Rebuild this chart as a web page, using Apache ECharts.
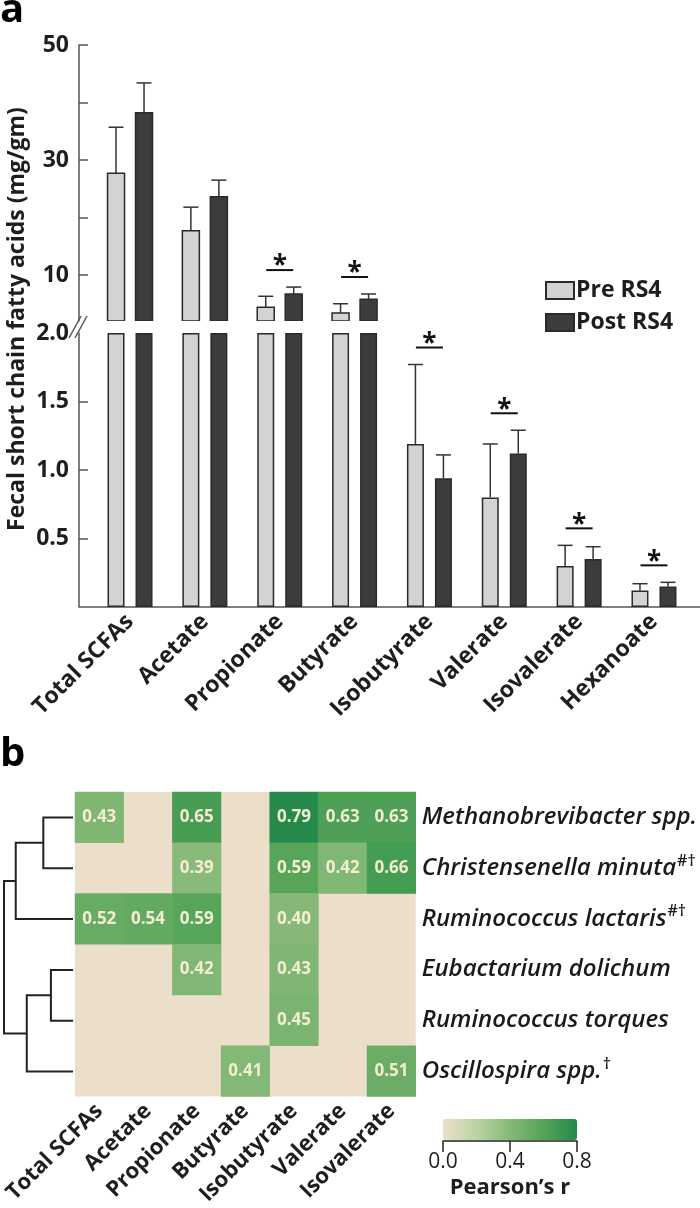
<!DOCTYPE html>
<html>
<head>
<meta charset="utf-8">
<script src="https://cdn.jsdelivr.net/npm/echarts@6/dist/echarts.min.js"></script>
<style>
html,body{margin:0;padding:0;background:#fff;}
#c{width:700px;height:1208px;}
</style>
</head>
<body>
<div id="c"></div>
<script>
// ---------- DATA ----------
const categories = ['Total SCFAs','Acetate','Propionate','Butyrate','Isobutyrate','Valerate','Isovalerate','Hexanoate'];
const preMean  = [27.7, 17.7, 4.4, 3.4, 1.19, 0.80, 0.30, 0.12];
const preUpper = [35.7, 21.8, 6.3, 5.0, 1.77, 1.19, 0.45, 0.17];
const postMean = [38.2, 23.6, 6.7, 5.8, 0.94, 1.12, 0.35, 0.15];
const postUpper= [43.4, 26.5, 7.9, 6.7, 1.11, 1.29, 0.44, 0.18];
const significant = [false, false, true, true, true, true, true, true];
const upperTicks  = [10, 20, 30, 40, 50];
const upperLabels = [10, 30, 50];
const lowerTicks  = [0.5, 1.0, 1.5];
const lowerLabels = [0.5, 1.0, 1.5, 2.0];
const UPPER_MIN = 2, UPPER_MAX = 50, LOWER_MAX = 2;

const heatCols = ['Total SCFAs','Acetate','Propionate','Butyrate','Isobutyrate','Valerate','Isovalerate'];
const heatRows = ['Methanobrevibacter spp.','Christensenella minuta','Ruminococcus lactaris','Eubactarium dolichum','Ruminococcus torques','Oscillospira spp.'];
const rowMarks = ['', '#\u2020', '#\u2020', '', '', '\u2020'];
const rMethanobrevibacter = [0.43, null, 0.65, null, 0.79, 0.63, 0.63];
const rChristensenella    = [null, null, 0.39, null, 0.59, 0.42, 0.66];
const rRumLactaris        = [0.52, 0.54, 0.59, null, 0.40, null, null];
const rEubactarium        = [null, null, 0.42, null, 0.43, null, null];
const rRumTorques         = [null, null, null, null, 0.45, null, null];
const rOscillospira       = [null, null, null, 0.41, null, null, 0.51];
const heatValues = [rMethanobrevibacter, rChristensenella, rRumLactaris, rEubactarium, rRumTorques, rOscillospira];
// dendrogram merges: [childA, childB, height]; leaves 0..5, new clusters numbered 6..
const merges = [[0,1,0.43],[3,4,0.32],[6,2,0.83],[7,5,0.67],[8,9,1.0]];
const colorbarMin = 0, colorbarMax = 0.8, colorbarStep = 0.4;

// ---------- STYLE ----------
const FONT = "'Open Sans', 'DejaVu Sans', sans-serif";
const BAR_W = 17, BAR_GAP = 11;
const PRE_FILL = '#d3d3d3', POST_FILL = '#3c3c3c', BAR_STROKE = '#2a2a2a';
const AX = '#555';
const TXT = '#1e1e1e';

// ---------- BUILD ----------
const heatData = [];
heatValues.forEach((row, ri) => row.forEach((v, ci) => { if (v !== null) heatData.push([ci, ri, v]); }));

const nodeY = {}, nodeH = {};
for (let i = 0; i < heatRows.length; i++) { nodeY[i] = i; nodeH[i] = 0; }
const dendroData = merges.map((m, k) => {
  const id = heatRows.length + k;
  nodeY[id] = (nodeY[m[0]] + nodeY[m[1]]) / 2;
  nodeH[id] = m[2];
  return [nodeH[m[0]], nodeY[m[0]], nodeH[m[1]], nodeY[m[1]], m[2]];
});

const barRows = categories.map((c, i) => [i, preMean[i], preUpper[i], postMean[i], postUpper[i]]);
const offsetOf = (k) => (k === 0 ? -1 : 1) * (BAR_W + BAR_GAP) / 2;

function upperBars(params, api) {
  const i = api.value(0);
  const children = [];
  [[1, PRE_FILL], [3, POST_FILL]].forEach(([dim, fill], k) => {
    const v = api.value(dim);
    if (v <= UPPER_MIN) return;
    const p0 = api.coord([i, UPPER_MIN]);
    const p1 = api.coord([i, v]);
    children.push({ type: 'rect', shape: { x: p0[0] + offsetOf(k) - BAR_W / 2, y: p1[1], width: BAR_W, height: p0[1] - p1[1] },
      style: { fill: fill, stroke: BAR_STROKE, lineWidth: 1.5 } });
  });
  return { type: 'group', children: children };
}

function errorBars(gridMin, gridMax) {
  return function (params, api) {
    const i = api.value(0);
    const children = [];
    [[1, 2], [3, 4]].forEach(([mDim, eDim], k) => {
      const m = api.value(mDim), e = api.value(eDim);
      if (e <= gridMin || e > gridMax) return;
      const p0 = api.coord([i, Math.max(m, gridMin)]);
      const p1 = api.coord([i, e]);
      const cx = p0[0] + offsetOf(k);
      children.push({ type: 'line', shape: { x1: cx, y1: p0[1], x2: cx, y2: p1[1] }, style: { stroke: '#333', lineWidth: 1.5 } });
      children.push({ type: 'line', shape: { x1: cx - 7.5, y1: p1[1], x2: cx + 7.5, y2: p1[1] }, style: { stroke: '#333', lineWidth: 1.5 } });
    });
    const top = Math.max(api.value(2), api.value(4));
    if (significant[i] && top > gridMin && top <= gridMax) {
      const p = api.coord([i, top]);
      const y = p[1] - 17;
      children.push({ type: 'line', shape: { x1: p[0] - 13.5, y1: y, x2: p[0] + 13.5, y2: y }, style: { stroke: '#111', lineWidth: 2 } });
      children.push({ type: 'text', style: { text: '*', x: p[0], y: y - 3, align: 'center', verticalAlign: 'middle', font: "bold 26px " + FONT, fill: '#111' } });
    }
    return { type: 'group', children: children };
  };
}

function dendroItem(params, api) {
  const a = api.coord([api.value(0), api.value(1)]);
  const b = api.coord([api.value(2), api.value(3)]);
  const nA = api.coord([api.value(4), api.value(1)]);
  const nB = api.coord([api.value(4), api.value(3)]);
  return { type: 'polyline', shape: { points: [a, nA, nB, b] }, style: { stroke: '#222', lineWidth: 2, fill: null } };
}

const GRID_L = 92.6, GRID_W = 598.8;

const option = {
  animation: false,
  backgroundColor: '#fff',
  textStyle: { fontFamily: FONT },
  grid: [
    { left: GRID_L, top: 45, width: GRID_W, height: 276 },
    { left: GRID_L, top: 333, width: GRID_W, height: 274 },
    { left: 75, top: 792, width: 342, height: 305, show: true, backgroundColor: '#ecdfca', borderWidth: 0 },
    { left: 4, top: 792, width: 69, height: 305 },
    { left: 443, top: 1119, width: 134, height: 22 }
  ],
  xAxis: [
    { type: 'category', gridIndex: 0, data: categories, show: false },
    { type: 'category', gridIndex: 1, data: categories, axisLine: { show: false }, axisTick: { show: false },
      axisLabel: { rotate: 45, interval: 0, fontSize: 23, fontWeight: 'bold', color: TXT, margin: 11, fontFamily: FONT } },
    { type: 'category', gridIndex: 2, data: heatCols, axisLine: { show: false }, axisTick: { show: false },
      axisLabel: { rotate: 45, interval: 0, fontSize: 22, fontWeight: 'bold', color: TXT, margin: 11, fontFamily: FONT } },
    { type: 'value', gridIndex: 3, min: 0, max: 1, inverse: true, show: false },
    { type: 'value', gridIndex: 4, min: colorbarMin, max: colorbarMax, interval: colorbarStep,
      axisLine: { show: true, lineStyle: { color: '#222', width: 1.5 } },
      axisTick: { show: true, length: 11, lineStyle: { color: '#222', width: 1.5 } },
      axisLabel: { fontSize: 21, color: TXT, margin: 11, formatter: v => v.toFixed(1), fontFamily: FONT },
      splitLine: { show: false },
      name: 'Pearson\u2019s r', nameLocation: 'middle', nameGap: 36,
      nameTextStyle: { fontSize: 22, fontWeight: 'bold', color: TXT, fontFamily: FONT } }
  ],
  yAxis: [
    { type: 'value', gridIndex: 0, min: UPPER_MIN, max: UPPER_MAX, offset: 13.6,
      axisLine: { show: true, lineStyle: { color: AX, width: 1.5 } },
      axisTick: { show: true, inside: true, length: 9, customValues: upperTicks, lineStyle: { color: AX, width: 1.5 } },
      axisLabel: { customValues: upperLabels, fontSize: 23, fontWeight: 'bold', color: TXT, margin: 10, fontFamily: FONT },
      splitLine: { show: false } },
    { type: 'value', gridIndex: 1, min: 0, max: LOWER_MAX, offset: 13.6,
      axisLine: { show: true, lineStyle: { color: AX, width: 1.5 } },
      axisTick: { show: true, inside: true, length: 9, customValues: lowerTicks, lineStyle: { color: AX, width: 1.5 } },
      axisLabel: { customValues: lowerLabels, fontSize: 23, fontWeight: 'bold', color: TXT, margin: 10, formatter: v => v.toFixed(1), fontFamily: FONT },
      splitLine: { show: false } },
    { type: 'category', gridIndex: 2, data: heatRows, inverse: true, position: 'right',
      axisLine: { show: false }, axisTick: { show: false },
      axisLabel: { margin: 6, align: 'left', fontFamily: FONT,
        formatter: (v, idx) => '{n|' + v + '}' + (rowMarks[idx] ? '{s|' + rowMarks[idx] + '}' : ''),
        rich: {
          n: { fontSize: 24, fontStyle: 'italic', fontWeight: 600, color: '#1a1a1a', fontFamily: FONT },
          s: { fontSize: 16, fontWeight: 600, color: '#1a1a1a', fontFamily: FONT, verticalAlign: 'top', padding: [0, 0, 14, 1] }
        } } },
    { type: 'value', gridIndex: 3, min: -0.5, max: 5.5, inverse: true, show: false },
    { type: 'value', gridIndex: 4, show: false }
  ],
  legend: {
    data: ['Pre RS4', 'Post RS4'], orient: 'vertical', left: 545, top: 279,
    itemWidth: 28, itemHeight: 17, itemGap: 9, padding: 0, icon: 'rect',
    textStyle: { fontSize: 23, fontWeight: 'bold', color: TXT, fontFamily: FONT, padding: [0, 0, 0, -3] }
  },
  visualMap: {
    type: 'continuous', seriesIndex: 6, min: colorbarMin, max: colorbarMax,
    orient: 'horizontal', left: 443, top: 1119, itemWidth: 21, itemHeight: 134,
    calculable: false, padding: 0, text: null, showLabel: false,
    inRange: { color: ['#ebdfc9', '#b9d4a4', '#86b978', '#54a457', '#23894a'] }
  },
  series: [
    { name: 'Pre RS4', type: 'bar', xAxisIndex: 1, yAxisIndex: 1, barWidth: BAR_W, barGap: (BAR_GAP / BAR_W * 100) + '%',
      data: preMean.map(v => Math.min(v, LOWER_MAX)),
      itemStyle: { color: PRE_FILL, borderColor: BAR_STROKE, borderWidth: 1.5 } },
    { name: 'Post RS4', type: 'bar', xAxisIndex: 1, yAxisIndex: 1, barWidth: BAR_W,
      data: postMean.map(v => Math.min(v, LOWER_MAX)),
      itemStyle: { color: POST_FILL, borderColor: BAR_STROKE, borderWidth: 1.5 } },
    { name: 'upperBars', type: 'custom', xAxisIndex: 0, yAxisIndex: 0, data: barRows, renderItem: upperBars, clip: true },
    { name: 'errUpper', type: 'custom', xAxisIndex: 0, yAxisIndex: 0, data: barRows, renderItem: errorBars(UPPER_MIN, UPPER_MAX), z: 1 },
    { name: 'errLower', type: 'custom', xAxisIndex: 1, yAxisIndex: 1, data: barRows, renderItem: errorBars(-1, LOWER_MAX), z: 1 },
    { name: 'dendro', type: 'custom', xAxisIndex: 3, yAxisIndex: 3, data: dendroData, renderItem: dendroItem },
    { name: 'corr', type: 'heatmap', xAxisIndex: 2, yAxisIndex: 2, data: heatData,
      label: { show: true, formatter: p => p.value[2].toFixed(2), color: '#f3edd2', fontSize: 17, fontWeight: 'bold', fontFamily: FONT },
      itemStyle: { borderWidth: 0 } }
  ],
  graphic: [
    { type: 'text', left: 0, top: -9, style: { text: 'a', font: "bold 40px " + FONT, fill: '#000' } },
    { type: 'text', left: 0, top: 735, style: { text: 'b', font: "bold 40px " + FONT, fill: '#000' } },
    { type: 'text', x: 17, y: 319, rotation: Math.PI / 2,
      style: { text: 'Fecal short chain fatty acids (mg/gm)', font: "bold 23px " + FONT, fill: TXT, align: 'center', verticalAlign: 'middle' } },
    { type: 'line', shape: { x1: 79, y1: 607, x2: 700, y2: 607 }, style: { stroke: AX, lineWidth: 1.5 } },
    { type: 'line', shape: { x1: 69, y1: 338, x2: 81, y2: 316 }, style: { stroke: AX, lineWidth: 1.5 } },
    { type: 'line', shape: { x1: 75, y1: 338, x2: 87, y2: 316 }, style: { stroke: AX, lineWidth: 1.5 } }
  ]
};

const chart = echarts.init(document.getElementById('c'));
chart.setOption(option);
</script>
</body>
</html>
